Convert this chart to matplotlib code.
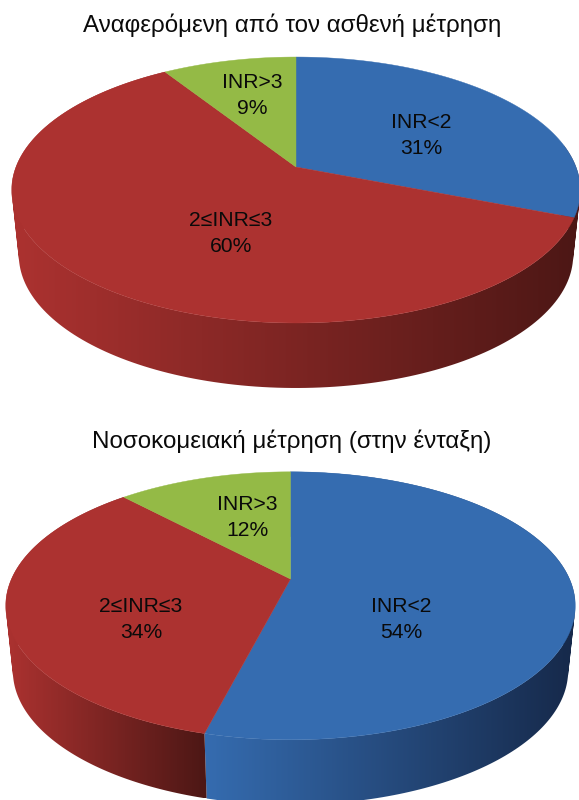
import numpy as np
import matplotlib
matplotlib.use("Agg")
import matplotlib.pyplot as plt
from matplotlib.patches import Polygon, PathPatch
from matplotlib.path import Path
from matplotlib.colors import LinearSegmentedColormap

plt.rcParams['font.family'] = ['Liberation Sans', 'DejaVu Sans']

# Slice order runs clockwise from twelve o'clock
categories = ["INR<2", "2≤INR≤3", "INR>3"]
patient_values = [31, 60, 9]
hospital_values = [54, 34, 12]
patient_title = "Αναφερόμενη από τον ασθενή μέτρηση"
hospital_title = "Νοσοκομειακή μέτρηση (στην ένταξη)"

face_colors = ["#356CB0", "#AC3230", "#94BA46"]
dark_colors = ["#16294A", "#4C1715", "#3F5018"]

fig = plt.figure(figsize=(5.79, 8.0), dpi=100)
ax = fig.add_axes([0, 0, 1, 1])
ax.axis("off")


def project(theta, apex, a, b, c, drop=0.0, shrink=1.0):
    """Perspective projection of a point on a flat disc, angle clockwise from north."""
    u = np.sin(theta)
    v = np.cos(theta)
    w = 1 + c * v
    return apex[0] + shrink * a * u / w, apex[1] - b * v / w + drop


def swept_wall(xt, yt, xb, yb):
    """Compound path of the quads swept between the upper and lower rim."""
    verts, codes = [], []
    for k in range(len(xt) - 1):
        quad = [(xt[k], yt[k]), (xt[k + 1], yt[k + 1]), (xb[k + 1], yb[k + 1]), (xb[k], yb[k])]
        area = sum(quad[j][0] * quad[(j + 1) % 4][1] - quad[(j + 1) % 4][0] * quad[j][1] for j in range(4))
        if area < 0:
            quad = quad[::-1]
        verts += quad + [quad[0]]
        codes += [Path.MOVETO, Path.LINETO, Path.LINETO, Path.LINETO, Path.CLOSEPOLY]
    return Path(verts, codes)


def draw_pie(values, apex, a, b, c, depth, shrink, title, title_xy, label_xy):
    edges = np.concatenate([[0], np.cumsum(values)]) * 3.6

    # side wall of each slice on the near half of the disc, shaded left to right
    for i in range(len(values)):
        start, end = edges[i], edges[i + 1]
        if end <= 135 or start >= 225:
            continue
        # a wall at the right rim also covers the sliver of the slice behind it
        if 90 < start < 135:
            start = 80
        th = np.radians(np.linspace(start, end, 200))
        xt, yt = project(th, apex, a, b, c)
        xb, yb = project(th, apex, a, b, c, drop=depth, shrink=shrink)
        patch = PathPatch(swept_wall(xt, yt, xb, yb), fc="none", ec="none", transform=ax.transData)
        ax.add_patch(patch)
        front = np.cos(th) < 0.05
        x0 = min(xt[front].min(), xb[front].min())
        x1 = max(xt[front].max(), xb[front].max())
        cmap = LinearSegmentedColormap.from_list("wall", [face_colors[i], dark_colors[i]])
        img = ax.imshow(np.linspace(0, 1, 256)[None, :], cmap=cmap, aspect="auto",
                        extent=(x0, x1, yb.max(), yt.min()), interpolation="bilinear", zorder=1)
        img.set_clip_path(patch)

    # top face
    for i in range(len(values)):
        th = np.radians(np.linspace(edges[i], edges[i + 1], 240))
        x, y = project(th, apex, a, b, c)
        ax.add_patch(Polygon(np.column_stack([np.r_[apex[0], x], np.r_[apex[1], y]]),
                             closed=True, fc=face_colors[i], ec=face_colors[i], lw=0.3, zorder=2))

    for name, val, (lx, ly) in zip(categories, values, label_xy):
        ax.text(lx, ly + 7.5, name, ha="center", va="baseline", fontsize=15.2, color="#0a0a0a", zorder=3)
        ax.text(lx, ly + 33.5, f"{val}%", ha="center", va="baseline", fontsize=15.2, color="#0a0a0a", zorder=3)
    ax.text(title_xy[0], title_xy[1], title, ha="center", va="baseline", fontsize=17.4, color="#0a0a0a")


draw_pie(patient_values, apex=(296, 167), a=280, b=129, c=0.173, depth=65, shrink=0.975,
         title=patient_title, title_xy=(292, 32),
         label_xy=[(421, 121), (231, 218), (252, 81)])
draw_pie(hospital_values, apex=(290.5, 579), a=279, b=128.6, c=0.20, depth=65, shrink=0.975,
         title=hospital_title, title_xy=(292, 448),
         label_xy=[(401, 604), (141, 604), (247, 503)])

ax.set_xlim(0, 579)
ax.set_ylim(800, 0)
fig.savefig("out.png", dpi=100, facecolor="white")
